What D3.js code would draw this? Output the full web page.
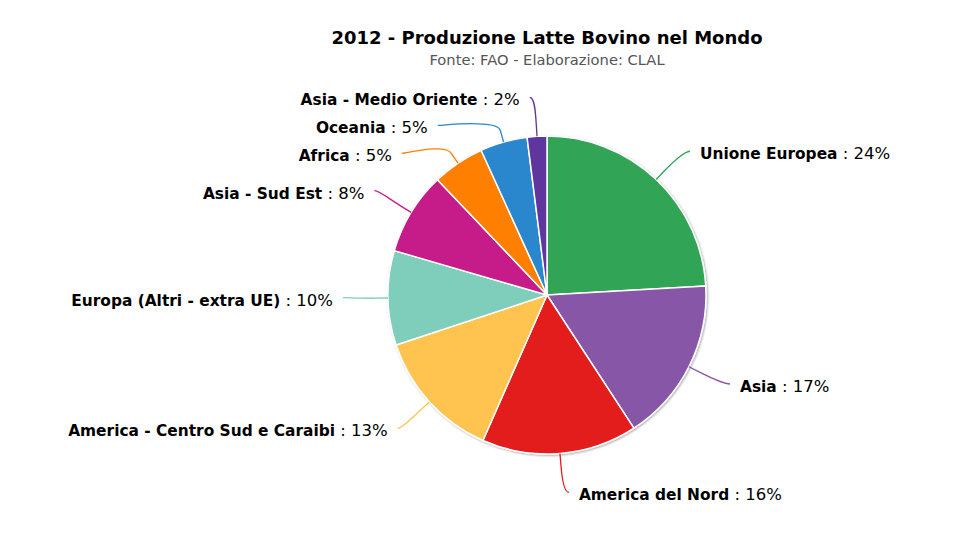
<!DOCTYPE html>
<html lang="it">
<head>
    <meta charset="UTF-8">
    <title>2012 - Produzione Latte Bovino nel Mondo</title>
    <script src="https://d3js.org/d3.v7.min.js"></script>
    <style>
        body { margin: 0; background: #fff; font-family: 'DejaVu Sans', sans-serif; }
        .title { font-size: 18px; font-weight: bold; fill: #000; text-anchor: middle; }
        .subtitle { font-size: 14.7px; fill: #555; text-anchor: middle; }
        .label { font-size: 16.5px; fill: #000; }
        .label .name { font-weight: bold; font-size: 15.4px; }
    </style>
</head>
<body>
<div id="chart"></div>
<script>
// dati
const categories = ["Unione Europea", "Asia", "America del Nord", "America - Centro Sud e Caraibi",
    "Europa (Altri - extra UE)", "Asia - Sud Est", "Africa", "Oceania", "Asia - Medio Oriente"];
const values = [24.1, 16.7, 15.8, 13.3, 9.6, 8.4, 5.3, 4.8, 2.0];
const colors = ["#33a457", "#8856a7", "#e31a1c", "#fec44f", "#7fcdbb", "#c51b8a", "#ff7f00", "#2987cd", "#5f349e"];

const width = 960, height = 540;
const cx = 547, cy = 295, radius = 159;
const labelRadius = radius + 36;
// spostamento delle etichette rispetto alla posizione radiale (come l'anti-collisione di Highcharts)
const labelDy = [1, 4, 6, 5, 2, 0, 23, 21, 0];
const labelDx = [0, 0, -3, 4, 0, 3, -27, -47, 4];

const svg = d3.select("#chart").append("svg")
    .attr("width", width)
    .attr("height", height);

svg.append("text").attr("class", "title").attr("x", 547).attr("y", 44)
    .text("2012 - Produzione Latte Bovino nel Mondo");
svg.append("text").attr("class", "subtitle").attr("x", 547).attr("y", 65)
    .text("Fonte: FAO - Elaborazione: CLAL");

const pie = d3.pie().sort(null)(values);
const arc = d3.arc().innerRadius(0).outerRadius(radius);
const fmt = d3.format(".0f");

const defs = svg.append("defs");
const filter = defs.append("filter").attr("id", "shadow")
    .attr("x", "-10%").attr("y", "-10%").attr("width", "120%").attr("height", "120%");
filter.append("feDropShadow").attr("dx", 1).attr("dy", 1).attr("stdDeviation", 1.2)
    .attr("flood-color", "#000").attr("flood-opacity", 0.35);

const g = svg.append("g").attr("transform", `translate(${cx},${cy})`);

g.append("g").attr("filter", "url(#shadow)").selectAll("path")
    .data(pie)
    .enter()
    .append("path")
    .attr("d", arc)
    .attr("fill", (d, i) => colors[i])
    .attr("stroke", "#fff")
    .attr("stroke-width", 1.5)
    .attr("stroke-linejoin", "round");

// connettori ed etichette
pie.forEach((d, i) => {
    const mid = (d.startAngle + d.endAngle) / 2;
    const s = Math.sin(mid), c = -Math.cos(mid);
    const right = s > 0;
    const x = s * labelRadius + labelDx[i] + (right ? 19 : -19);
    const y = c * labelRadius + labelDy[i];

    const lineX = x + (right ? -10 : 10);
    const path = d3.path();
    path.moveTo(lineX, y - 3);
    path.bezierCurveTo(lineX + (right ? -5 : 5), y - 3,
        s * (radius + 24), c * (radius + 24),
        s * (radius + 12), c * (radius + 12));
    path.lineTo(s * radius, c * radius);

    g.append("path")
        .attr("d", path.toString())
        .attr("fill", "none")
        .attr("stroke", colors[i])
        .attr("stroke-width", 1.3);

    const text = g.append("text")
        .attr("class", "label")
        .attr("x", x)
        .attr("y", y + 5)
        .attr("text-anchor", right ? "start" : "end");
    text.append("tspan").attr("class", "name").text(categories[i]);
    text.append("tspan").text(` : ${fmt(values[i])}%`);
});
</script>
</body>
</html>
